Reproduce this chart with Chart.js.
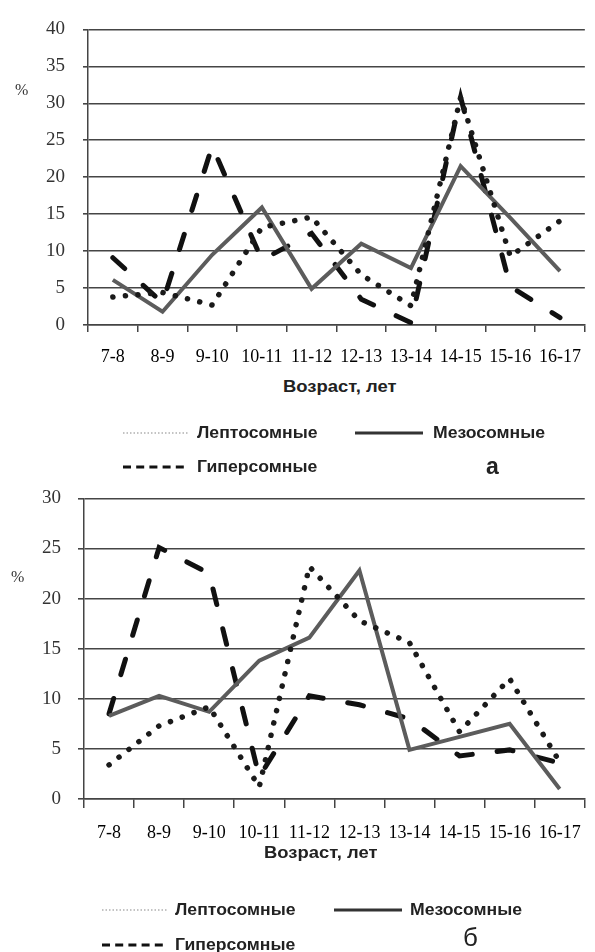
<!DOCTYPE html>
<html><head><meta charset="utf-8">
<script src="https://cdn.jsdelivr.net/npm/chart.js@4.4.1/dist/chart.umd.min.js"></script>
<style>
html,body{margin:0;padding:0;background:#fff;}
body{width:595px;height:952px;position:relative;overflow:hidden;font-family:"Liberation Sans",Arial,sans-serif;}
canvas{position:absolute;left:0;}
.t{position:absolute;white-space:nowrap;font-weight:bold;color:#222;transform-origin:left center;line-height:1;}
.pct{position:absolute;font-family:"Liberation Serif",serif;font-size:16px;color:#333;line-height:1;}
svg{position:absolute;left:0;top:0;}
</style></head>
<body>
<canvas id="chartA" width="595" height="370" style="top:0px"></canvas>
<canvas id="chartB" width="595" height="380" style="top:470px"></canvas>

<div class="pct" style="left:15px;top:82px;">%</div>
<div class="pct" style="left:11px;top:569px;">%</div>

<div class="t" style="left:283px;top:379px;font-size:16px;transform:scaleX(1.15);">Возраст, лет</div>
<div class="t" style="left:264px;top:845px;font-size:16px;transform:scaleX(1.15);">Возраст, лет</div>

<svg width="595" height="952">
  <line x1="123" y1="433" x2="188" y2="433" stroke="#888" stroke-width="1.2" stroke-dasharray="1.5 2"/>
  <line x1="355" y1="433" x2="423" y2="433" stroke="#333" stroke-width="3"/>
  <line x1="123" y1="467" x2="188" y2="467" stroke="#111" stroke-width="3" stroke-dasharray="8 5.2"/>
  <line x1="102" y1="910" x2="167" y2="910" stroke="#888" stroke-width="1.2" stroke-dasharray="1.5 2"/>
  <line x1="334" y1="910" x2="402" y2="910" stroke="#333" stroke-width="3"/>
  <line x1="102" y1="945" x2="167" y2="945" stroke="#111" stroke-width="3" stroke-dasharray="8 5.2"/>
</svg>

<div class="t" style="left:197px;top:425px;font-size:16px;transform:scaleX(1.1);">Лептосомные</div>
<div class="t" style="left:433px;top:425px;font-size:16px;transform:scaleX(1.1);">Мезосомные</div>
<div class="t" style="left:197px;top:459px;font-size:16px;transform:scaleX(1.1);">Гиперсомные</div>
<div class="t" style="left:486px;top:455px;font-size:23px;">а</div>

<div class="t" style="left:175px;top:902px;font-size:16px;transform:scaleX(1.1);">Лептосомные</div>
<div class="t" style="left:410px;top:902px;font-size:16px;transform:scaleX(1.1);">Мезосомные</div>
<div class="t" style="left:175px;top:937px;font-size:16px;transform:scaleX(1.1);">Гиперсомные</div>
<div class="t" style="left:463px;top:924px;font-size:26px;font-weight:normal;">б</div>

<script>
// ---- data ----
const categories = ["7-8","8-9","9-10","10-11","11-12","12-13","13-14","14-15","15-16","16-17"];
const seriesNames = ["Лептосомные","Мезосомные","Гиперсомные"];

// chart a
const leptoA = [3.8, 4.4, 2.7, 13.2, 14.6, 6.8, 2.6, 30.8, 9.3, 14.1];
const mesoA  = [6.1, 1.8, 9.5, 15.9, 4.9, 11.0, 7.7, 21.5, 14.5, 7.3];
const hyperA = [9.1, 3.0, 24.2, 8.8, 12.4, 3.5, 0.3, 30.8, 5.2, 1.0];
const yMaxA = 40;

// chart b
const leptoB = [3.4, 7.3, 9.2, 1.2, 23.2, 17.8, 15.6, 6.7, 12.0, 3.7];
const mesoB  = [8.3, 10.3, 8.7, 13.8, 16.1, 22.8, 4.9, 6.2, 7.5, 1.0];
const hyperB = [8.5, 25.1, 22.5, 2.2, 10.3, 9.4, 8.0, 4.3, 4.9, 3.6];
const yMaxB = 30;

const yStep = 5;

function makeDatasets(lepto, meso, hyper) {
  return [
    { label: seriesNames[0], data: lepto, borderColor: '#1a1a1a', borderWidth: 5.5,
      borderDash: [0.1, 12.5], borderCapStyle: 'round', fill: false },
    { label: seriesNames[1], data: meso, borderColor: '#5c5c5c', borderWidth: 4,
      borderJoinStyle: 'miter', fill: false },
    { label: seriesNames[2], data: hyper, borderColor: '#111', borderWidth: 5,
      borderDash: [16, 25], borderCapStyle: 'round', fill: false }
  ];
}

function makeChart(id, datasets, yMax, g) {
  return new Chart(document.getElementById(id), {
    type: 'line',
    data: { labels: categories, datasets: datasets },
    options: {
      responsive: false, animation: false, devicePixelRatio: 1,
      layout: { padding: { top: g.padTop, right: g.padRight, left: 0, bottom: 0 } },
      plugins: { legend: { display: false }, tooltip: { enabled: false } },
      elements: { point: { radius: 0 }, line: { tension: 0 } },
      scales: {
        x: {
          type: 'category', offset: true,
          grid: { display: true, drawOnChartArea: false, drawTicks: true, tickLength: g.xTick,
                  offset: true, color: '#444', lineWidth: 1.5 },
          border: { display: true, color: '#444', width: 1.5 },
          ticks: { font: { family: '"Liberation Serif", "Times New Roman", serif', size: 18 },
                   color: '#000', padding: g.xPad, maxRotation: 0, autoSkip: false },
          afterFit: s => { s.height = g.xHeight; }
        },
        y: {
          min: 0, max: yMax,
          grid: { color: '#454545', lineWidth: 1.6, tickLength: g.yTick, drawTicks: true },
          border: { display: true, color: '#444', width: 1.5 },
          ticks: { stepSize: yStep, font: { family: '"Liberation Serif", "Times New Roman", serif', size: 19 },
                   color: '#333', padding: g.yPad },
          afterFit: s => { s.width = g.yWidth; }
        }
      }
    }
  });
}

makeChart('chartA', makeDatasets(leptoA, mesoA, hyperA), yMaxA,
  { padTop: 24, padRight: 0, xTick: 7, xPad: 14, xHeight: 45, yTick: 5, yPad: 18, yWidth: 88 });
makeChart('chartB', makeDatasets(leptoB, mesoB, hyperB), yMaxB,
  { padTop: 26, padRight: 6, xTick: 9, xPad: 14, xHeight: 51, yTick: 6, yPad: 17, yWidth: 84 });
</script>
</body></html>
